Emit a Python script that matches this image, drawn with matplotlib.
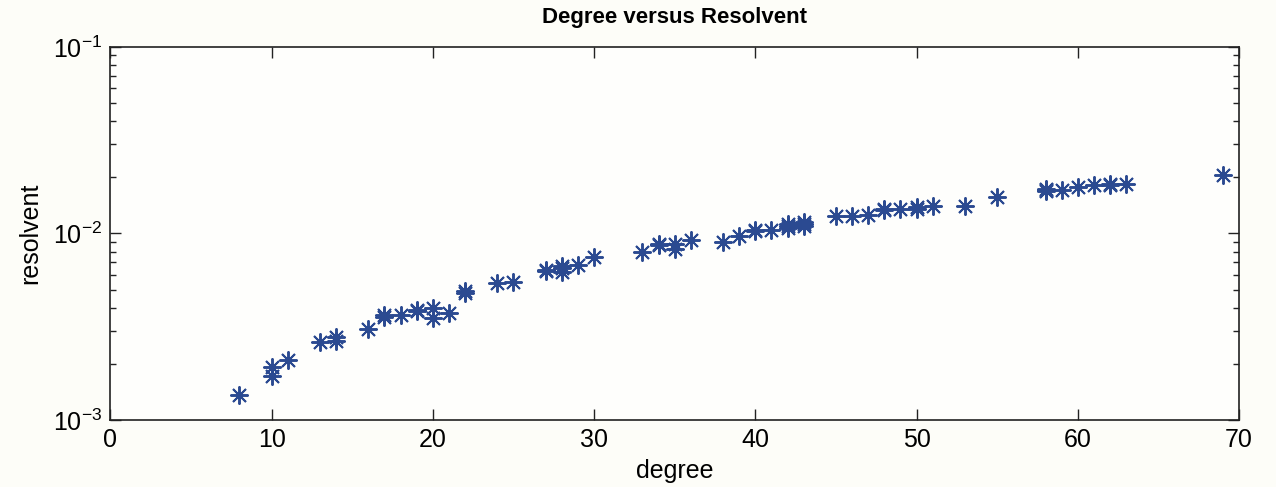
import numpy as np
import matplotlib
matplotlib.use('Agg')
import matplotlib.pyplot as plt

plt.rcParams['font.family'] = ['Liberation Sans', 'DejaVu Sans']

# degree / resolvent pairs
degree = [8, 10, 10, 11, 13, 14, 14, 16, 17, 17, 18, 19, 19, 20, 20, 21,
          22, 22, 24, 25, 27, 27, 28, 28, 28, 29, 30, 33, 34, 34, 35, 35,
          36, 38, 39, 40, 40, 41, 42, 42, 42, 43, 43, 43, 45, 46, 47, 48,
          48, 49, 50, 50, 51, 53, 55, 58, 58, 58, 59, 60, 61, 62, 62, 63, 69]
resolvent = [1.36e-3, 1.93e-3, 1.72e-3, 2.11e-3, 2.61e-3, 2.77e-3, 2.64e-3,
             3.08e-3, 3.65e-3, 3.58e-3, 3.67e-3, 3.91e-3, 3.82e-3, 4.0e-3,
             3.53e-3, 3.76e-3, 4.81e-3, 4.9e-3, 5.44e-3, 5.51e-3, 6.36e-3,
             6.28e-3, 6.2e-3, 6.5e-3, 6.7e-3, 6.74e-3, 7.5e-3, 7.97e-3,
             8.65e-3, 8.8e-3, 8.8e-3, 8.3e-3, 9.21e-3, 9.02e-3, 9.67e-3,
             1.05e-2, 1.03e-2, 1.05e-2, 1.10e-2, 1.07e-2, 1.13e-2, 1.13e-2,
             1.09e-2, 1.15e-2, 1.24e-2, 1.24e-2, 1.25e-2, 1.33e-2, 1.35e-2,
             1.35e-2, 1.36e-2, 1.39e-2, 1.41e-2, 1.40e-2, 1.57e-2, 1.71e-2,
             1.68e-2, 1.74e-2, 1.71e-2, 1.77e-2, 1.83e-2, 1.85e-2, 1.83e-2,
             1.85e-2, 2.07e-2]

bg = '#fdfdf8'
fig = plt.figure(figsize=(12.76, 4.87), dpi=100, facecolor=bg)
ax = fig.add_axes([0.0865, 0.1376, 0.8845, 0.766])
ax.set_facecolor('#fefefc')

ax.plot(degree, resolvent, ls='none', marker=(8, 2, 0), ms=13, mew=1.4,
        color='#2b4a91')

ax.set_yscale('log')
ax.set_xlim(0, 70)
ax.set_ylim(1e-3, 1e-1)
ax.set_xticks(np.arange(0, 71, 10))

ax.tick_params(which='both', direction='in', top=True, right=True,
               labelsize=18, width=1, color='#222222')
ax.tick_params(which='major', length=8, pad=6)
ax.tick_params(which='minor', length=4)
for s in ax.spines.values():
    s.set_linewidth(1.2)
    s.set_color('#222222')

ax.set_title('Degree versus Resolvent', fontsize=16, fontweight='bold', pad=17)
ax.set_xlabel('degree', fontsize=18, labelpad=5)
ax.set_ylabel('resolvent', fontsize=18, labelpad=8)

fig.savefig('out.png', dpi=100, facecolor=bg)
